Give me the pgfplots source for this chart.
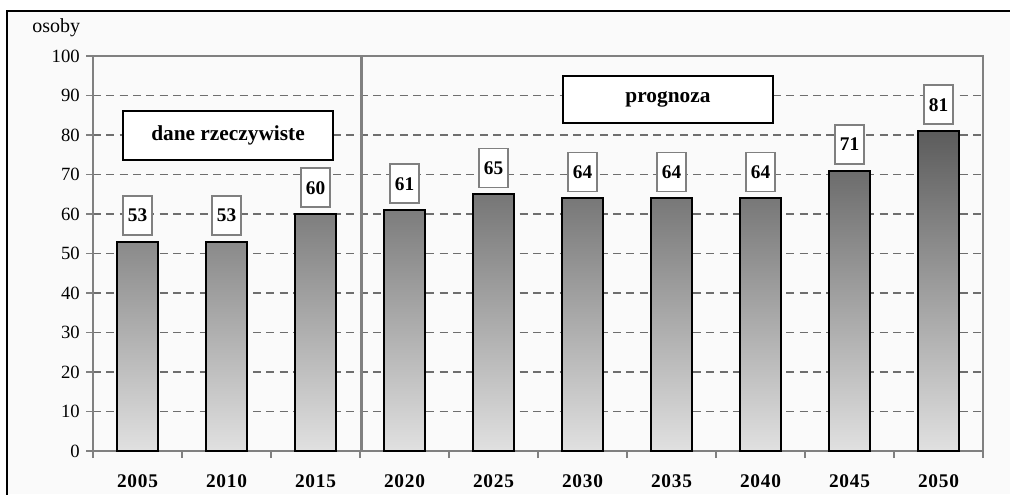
\documentclass[border=0pt]{standalone}
\usepackage{fontspec}
\setmainfont{Liberation Serif}
\newfontfamily\spacedbf[LetterSpace=4,BoldFont={Liberation Serif Bold}]{Liberation Serif}
\usepackage{pgfplots}
\pgfplotsset{compat=1.18}
\definecolor{bggray}{HTML}{FAFAFA}
\definecolor{gridgray}{HTML}{6E6E6E}
\definecolor{axgray}{HTML}{808080}
\begin{document}
\begin{tikzpicture}
\useasboundingbox (0,0) rectangle (757.5pt,370.5pt);
\fill[white] (0,0) rectangle (757.5pt,370.5pt);
\fill[bggray] (5.6pt,0) rectangle (757.5pt,362.6pt);
\draw[black, line width=1.5pt] (5.6pt,-2pt) -- (5.6pt,362.6pt) -- (760pt,362.6pt);
\node[anchor=base west, inner sep=0pt, font=\fontsize{15}{17}\selectfont] at (24pt,345.75pt) {osoby};
\begin{axis}[
  at={(69.75pt,32.25pt)}, anchor=south west,
  scale only axis, width=667.5pt, height=296.25pt,
  xmin=0, xmax=10, ymin=0, ymax=100,
  enlargelimits=false,
  axis background/.style={fill=bggray},
  axis line style={axgray, line width=0.8pt},
  ybar, bar width=30.75pt, bar shift=0pt,
  xtick={0.5,1.5,...,9.5},
  xticklabels={2005,2010,2015,2020,2025,2030,2035,2040,2045,2050},
  minor xtick={0,1,...,10},
  ytick={0,10,...,100},
  xtick pos=bottom, ytick pos=left,
  tick align=outside,
  major tick length=5.25pt, minor tick length=5.25pt,
  major x tick style={draw=none},
  minor x tick style={axgray, line width=0.8pt},
  ytick style={axgray, line width=0.8pt},
  ymajorgrids,
  grid style={gridgray, line width=0.8pt, dash pattern=on 6pt off 4pt},
  /pgf/number format/assume math mode=true,
  ticklabel style={font=\fontsize{14}{16}\selectfont},
  xticklabel style={font=\fontsize{14.5}{16}\spacedbf\bfseries, yshift=-9pt},
  yticklabel style={xshift=-1.2pt},
  nodes near coords,
  every node near coord/.append style={draw=axgray, fill=white, line width=1.2pt,
    minimum width=21.75pt, minimum height=29.25pt, inner sep=0pt,
    font=\fontsize{14.5}{16}\selectfont\bfseries, anchor=south, yshift=4.5pt},
]
\addplot[draw=black, line width=1.5pt, top color=black!64, bottom color=black!12] coordinates {
 (0.5,53) (1.5,53) (2.5,60) (3.5,61) (4.5,65) (5.5,64) (6.5,64) (7.5,64) (8.5,71) (9.5,81)};
\draw[axgray, line width=2.25pt] (axis cs:3.02,0) -- (axis cs:3.02,100);
\node[draw=black, fill=white, line width=1.5pt, minimum width=157.5pt, minimum height=36.75pt, inner sep=0pt,
  font=\fontsize{16}{18}\selectfont\bfseries] at (axis cs:1.517,79.87) {dane rzeczywiste};
\node[draw=black, fill=white, line width=1.5pt, minimum width=157.5pt, minimum height=35.25pt, inner sep=0pt,
  font=\fontsize{16}{18}\selectfont\bfseries] at (axis cs:6.46,88.99) {prognoza};
\end{axis}
\end{tikzpicture}
\end{document}
